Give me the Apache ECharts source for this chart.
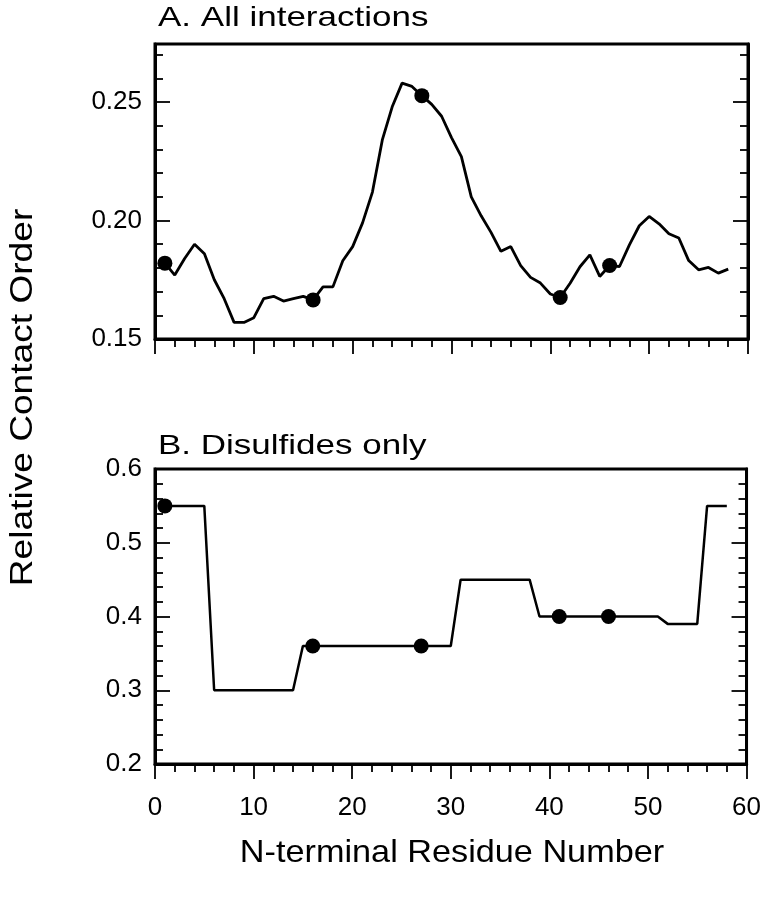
<!DOCTYPE html>
<html>
<head>
<meta charset="utf-8">
<script src="https://cdn.jsdelivr.net/npm/echarts@6/dist/echarts.min.js"></script>
<style>html,body{margin:0;padding:0;background:#fff}#c{width:764px;height:900px}</style>
</head>
<body>
<div id="c"></div>
<script>
// Residue numbers
const residues = [1,2,3,4,5,6,7,8,9,10,11,12,13,14,15,16,17,18,19,20,21,22,23,24,25,26,27,28,29,30,31,32,33,34,35,36,37,38,39,40,41,42,43,44,45,46,47,48,49,50,51,52,53,54,55,56,57,58];
// Panel A: all interactions
const rcoAll = [0.182,0.177,0.184,0.190,0.186,0.175,0.167,0.157,0.157,0.159,0.167,0.168,0.166,0.167,0.168,0.1665,0.172,0.172,0.183,0.189,0.199,0.212,0.234,0.248,0.258,0.2566,0.2527,0.249,0.244,0.235,0.227,0.210,0.202,0.195,0.187,0.189,0.181,0.176,0.1736,0.169,0.1675,0.1735,0.1805,0.1855,0.1764,0.181,0.1806,0.1897,0.1978,0.2017,0.1986,0.1944,0.1926,0.1831,0.1792,0.1802,0.1778,0.1795];
// Panel B: disulfides only
const rcoSS = [0.55,0.55,0.55,0.55,0.55,0.30,0.30,0.30,0.30,0.30,0.30,0.30,0.30,0.30,0.36,0.36,0.36,0.36,0.36,0.36,0.36,0.36,0.36,0.36,0.36,0.36,0.36,0.36,0.36,0.36,0.45,0.45,0.45,0.45,0.45,0.45,0.45,0.45,0.40,0.40,0.40,0.40,0.40,0.40,0.40,0.40,0.40,0.40,0.40,0.40,0.40,0.39,0.39,0.39,0.39,0.55,0.55,0.55];
// Highlighted residues (filled circles)
const marked = [1,16,27,41,46];
// Tick values
const xMajor = [0,10,20,30,40,50,60];
const yMajorA = [0.15,0.20,0.25];
const yMinorA = [0.16,0.17,0.18,0.19,0.21,0.22,0.23,0.24,0.26,0.27];
const yMajorB = [0.2,0.3,0.4,0.5,0.6];

const titleA = 'A. All interactions';
const titleB = 'B. Disulfides only';
const yName = 'Relative Contact Order';
const xName = 'N-terminal Residue Number';

const FONT = 'Liberation Sans, Arial, Helvetica, sans-serif';
const lineA = residues.map((r,i)=>[r,rcoAll[i]]);
const lineB = residues.map((r,i)=>[r,rcoSS[i]]);
const ptsA = marked.map(r=>[r,rcoAll[residues.indexOf(r)]]);
const ptsB = marked.map(r=>[r,rcoSS[residues.indexOf(r)]]);

const TICKW = 1.8;
function xAx(gi, labels){
  return {type:'value', gridIndex:gi, min:0, max:60, interval:10, position:'bottom',
    axisLine:{show:true, onZero:false, lineStyle:{color:'#000', width:3}},
    axisTick:{show:true, inside:false, length:15, customValues:xMajor, lineStyle:{color:'#000', width:TICKW}},
    minorTick:{show:true, splitNumber:5, length:8, lineStyle:{color:'#000', width:TICKW}},
    axisLabel:{show:labels, margin:31, customValues:xMajor, color:'#000', fontSize:26, fontFamily:FONT},
    splitLine:{show:false}};
}
function yAxMajor(gi, pos, min, max, interval, ticks, labels, dec){
  return {type:'value', gridIndex:gi, min:min, max:max, interval:interval, position:pos,
    axisLine:{show:true, onZero:false, lineStyle:{color:'#000', width:3}},
    axisTick:{show:true, inside:true, length:15, customValues:ticks, lineStyle:{color:'#000', width:TICKW}},
    axisLabel:{show:labels, inside:false, margin:13, customValues:ticks, color:'#000', fontSize:26, fontFamily:FONT,
      formatter:v=>v.toFixed(dec)},
    splitLine:{show:false}};
}
function yAxMinor(gi, pos, min, max, interval, ticks){
  return {type:'value', gridIndex:gi, min:min, max:max, interval:interval, position:pos,
    axisLine:{show:false},
    axisTick:{show:true, inside:true, length:8, customValues:ticks, lineStyle:{color:'#000', width:TICKW}},
    axisLabel:{show:false}, splitLine:{show:false}};
}
function yAxB(pos, labels){
  return {type:'value', gridIndex:1, min:0.2, max:0.6, interval:0.1, position:pos,
    axisLine:{show:true, onZero:false, lineStyle:{color:'#000', width:3}},
    axisTick:{show:true, inside:true, length:15, lineStyle:{color:'#000', width:TICKW}},
    minorTick:{show:true, splitNumber:5, length:8, lineStyle:{color:'#000', width:TICKW}},
    axisLabel:{show:labels, margin:13, customValues:yMajorB, color:'#000', fontSize:26, fontFamily:FONT, formatter:v=>v.toFixed(1)},
    splitLine:{show:false}};
}

const option = {
  animation:false,
  backgroundColor:'#fff',
  grid:[
    {left:155, right:16, top:44, height:295, show:true, borderColor:'#000', borderWidth:3, backgroundColor:'transparent'},
    {left:155, right:16, top:469, height:295, show:true, borderColor:'#000', borderWidth:3, backgroundColor:'transparent'}
  ],
  xAxis:[xAx(0,false), xAx(1,true)],
  yAxis:[
    yAxMajor(0,'left',0.15,0.2745,0.05,yMajorA,true,2),
    yAxMajor(0,'right',0.15,0.2745,0.05,yMajorA,false,2),
    yAxMinor(0,'left',0.15,0.2745,0.05,yMinorA),
    yAxMinor(0,'right',0.15,0.2745,0.05,yMinorA),
    yAxB('left',true),
    yAxB('right',false)
  ],
  series:[
    {type:'line', xAxisIndex:0, yAxisIndex:0, data:lineA, showSymbol:false, symbol:'none', lineStyle:{color:'#000', width:2.8}},
    {type:'scatter', xAxisIndex:0, yAxisIndex:0, data:ptsA, symbol:'circle', symbolSize:15, itemStyle:{color:'#000', opacity:1}},
    {type:'line', xAxisIndex:1, yAxisIndex:4, data:lineB, showSymbol:false, symbol:'none', lineStyle:{color:'#000', width:2.5}},
    {type:'scatter', xAxisIndex:1, yAxisIndex:4, data:ptsB, symbol:'circle', symbolSize:15, itemStyle:{color:'#000', opacity:1}}
  ],
  graphic:[
    {type:'text', x:158, y:18.5, scaleX:1.25, style:{text:titleA, fill:'#000', font:'28px '+FONT, align:'left', verticalAlign:'middle'}},
    {type:'text', x:158, y:446.5, scaleX:1.25, style:{text:titleB, fill:'#000', font:'28px '+FONT, align:'left', verticalAlign:'middle'}},
    {type:'text', x:23, y:397.5, rotation:Math.PI/2, scaleX:1.16, style:{text:yName, fill:'#000', font:'32px '+FONT, align:'center', verticalAlign:'middle'}},
    {type:'text', x:452, y:853, scaleX:1.07, style:{text:xName, fill:'#000', font:'32px '+FONT, align:'center', verticalAlign:'middle'}}
  ]
};
const chart = echarts.init(document.getElementById('c'), null, {renderer:'canvas'});
chart.setOption(option);
</script>
</body>
</html>
